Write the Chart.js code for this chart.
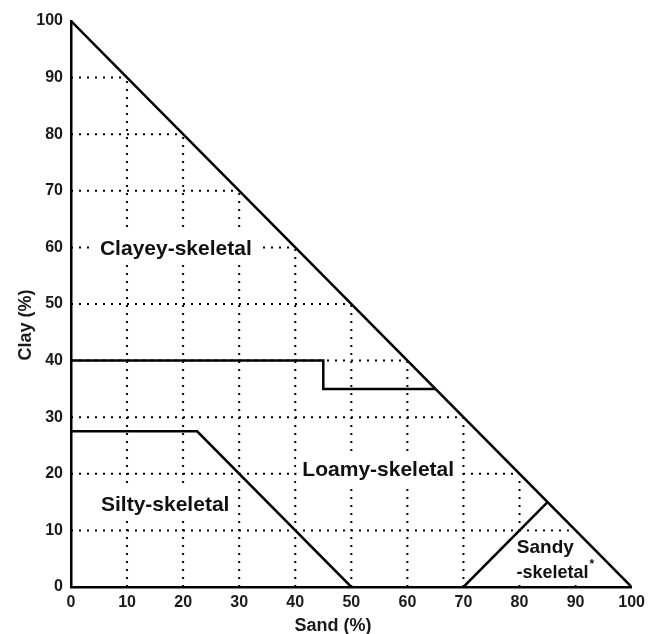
<!DOCTYPE html>
<html><head><meta charset="utf-8">
<script src="https://cdn.jsdelivr.net/npm/chart.js@4"></script>
<style>html,body{margin:0;padding:0;background:#fff}#wrap{width:651px;height:634px}</style>
</head><body><div id="wrap"><canvas id="c" width="651" height="634"></canvas></div>
<script>
const tickValues = [0,10,20,30,40,50,60,70,80,90,100];
const outline = [{x:0,y:100},{x:100,y:0}];
const clayeyBoundary = [{x:0,y:40},{x:45,y:40},{x:45,y:35},{x:65,y:35}];
const siltyBoundary = [{x:0,y:27.5},{x:22.5,y:27.5},{x:50,y:0}];
const sandyBoundary = [{x:70,y:0},{x:85,y:15}];
const regionNames = ["Clayey-skeletal","Loamy-skeletal","Silty-skeletal","Sandy","-skeletal"];
const regionX = [18.7,54.8,16.8,84.6,85.9];
const regionY = [59.9,20.9,14.8,7.2,2.7];
const regionSize = [21,21,21,19,18];
const xTitle = "Sand (%)";
const yTitle = "Clay (%)";

const FONT = "'Liberation Sans', Arial, sans-serif";
const datasets = [];
[outline,clayeyBoundary,siltyBoundary,sandyBoundary].forEach(d=>datasets.push({data:d,solid:true}));
tickValues.slice(1,-1).forEach(v=>{
  datasets.push({data:[{x:v,y:0},{x:v,y:100-v}],dotted:true});
  datasets.push({data:[{x:0,y:v},{x:100-v,y:v}],dotted:true});
});
datasets.forEach(ds=>{
  ds.showLine=true; ds.pointRadius=0; ds.borderColor='#000'; ds.fill=false; ds.tension=0;
  if(ds.dotted){ds.borderWidth=2; ds.borderDash=[2,6]; ds.borderCapStyle='butt';}
  else {ds.borderWidth=2.5;}
});

let masked=false;
function labelGeom(chart,i){
  const {ctx,scales:{x,y}}=chart;
  const s=regionSize[i];
  ctx.font='bold '+s+'px '+FONT;
  const w=ctx.measureText(regionNames[i]).width;
  const px=x.getPixelForValue(regionX[i]), py=y.getPixelForValue(regionY[i]);
  return {s,w,px,py};
}
const labelPlugin = {
  id:'regionLabels',
  beforeDatasetsDraw(){masked=false;},
  beforeDatasetDraw(chart,args){
    if(masked) return;
    if(!chart.data.datasets[args.index].solid) return;
    masked=true;
    const ctx=chart.ctx;
    ctx.save();
    ctx.fillStyle='#fff';
    [0,1,2].forEach(i=>{
      const g=labelGeom(chart,i);
      ctx.fillRect(g.px-g.w/2-6, g.py-g.s*0.5-6, g.w+12, g.s+12);
    });
    const a=labelGeom(chart,3), b=labelGeom(chart,4);
    const left=Math.min(a.px-a.w/2,b.px-b.w/2)-6, right=Math.max(a.px+a.w/2,b.px+b.w/2)+14;
    const top=a.py-a.s*0.5-5, bottom=chart.scales.y.getPixelForValue(0)-2;
    ctx.fillRect(left,top,right-left,bottom-top);
    ctx.restore();
  },
  afterDatasetsDraw(chart){
    const ctx = chart.ctx;
    ctx.save();
    ctx.fillStyle='#111';
    ctx.textAlign='center'; ctx.textBaseline='alphabetic';
    regionNames.forEach((t,i)=>{
      const g=labelGeom(chart,i);
      const py=g.py+0.358*g.s;
      ctx.fillText(t,g.px,py);
      if(i===4){
        ctx.font='bold 12px '+FONT;
        ctx.textAlign='left';
        ctx.fillText('*',g.px+g.w/2+1,py-10);
        ctx.textAlign='center';
      }
    });
    ctx.font='bold 18px '+FONT;
    ctx.fillStyle='#1a1a1a';
    ctx.fillText(xTitle, 333, 631);
    ctx.save();
    ctx.translate(24+6.5, 325);
    ctx.rotate(-Math.PI/2);
    ctx.fillText(yTitle, 0, 0);
    ctx.restore();
    ctx.restore();
  }
};

new Chart(document.getElementById('c'),{
  type:'scatter',
  data:{datasets},
  options:{
    responsive:false, animation:false,
    layout:{padding:{top:21,right:14,left:0,bottom:0}},
    plugins:{legend:{display:false},tooltip:{enabled:false}},
    scales:{
      x:{type:'linear',min:0,max:100,
        afterFit(s){s.height=47;},
        afterBuildTicks(s){s.ticks=tickValues.map(v=>({value:v}));},
        grid:{display:false,drawTicks:false},
        border:{display:true,color:'#000',width:2.5},
        ticks:{color:'#1a1a1a',font:{family:FONT,size:16,weight:'bold'},padding:6,maxRotation:0,autoSkip:false}
      },
      y:{type:'linear',min:0,max:100,
        afterFit(s){s.width=71;},
        afterBuildTicks(s){s.ticks=tickValues.map(v=>({value:v}));},
        grid:{display:false,drawTicks:false},
        border:{display:true,color:'#000',width:2.5},
        ticks:{color:'#1a1a1a',font:{family:FONT,size:16,weight:'bold'},padding:8,autoSkip:false}
      }
    }
  },
  plugins:[labelPlugin]
});
</script></body></html>
